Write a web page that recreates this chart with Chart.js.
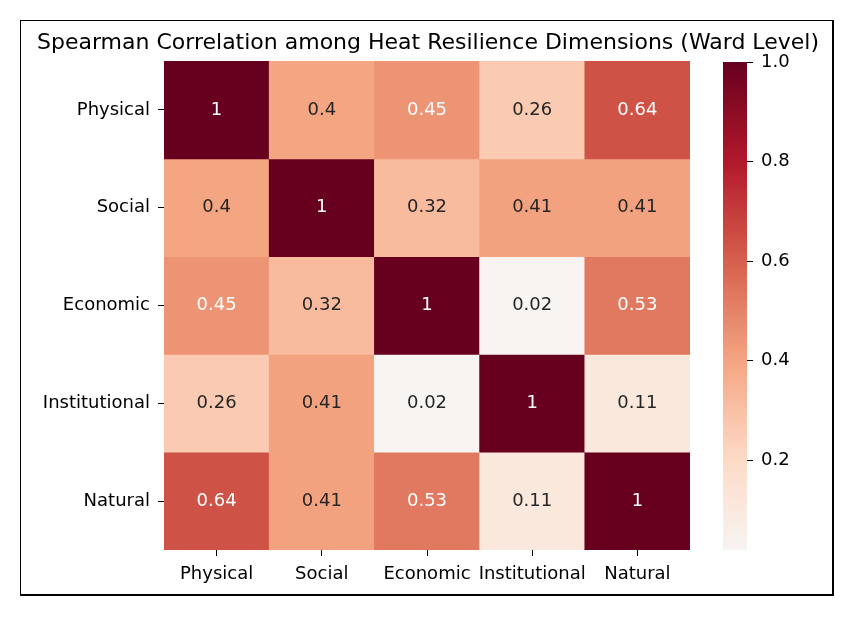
<!DOCTYPE html>
<html lang="en">
  <head>
    <meta charset="UTF-8" />
    <title>Spearman Correlation Heatmap</title>
    <style>
      body { margin: 0; background: #fff; }
      #wrap { position: relative; width: 856px; height: 618px; }
      #frame {
        position: absolute; left: 20px; top: 20px; width: 811px; height: 573px;
        border-left: 1px solid #000; border-top: 1px solid #000;
        border-right: 2px solid #000; border-bottom: 2px solid #000;
      }
      #heat { position: absolute; left: 0; top: 0; }
      #cbar { position: absolute; left: 700px; top: 0; }
    </style>
  </head>
  <body>
    <div id="wrap">
      <div id="frame"></div>
      <canvas id="heat" width="856" height="618"></canvas>
      <canvas id="cbar" width="156" height="618"></canvas>
    </div>

    <script src="https://cdn.jsdelivr.net/npm/chart.js@4.4.1/dist/chart.umd.min.js"></script>
    <script>
      // data
      const dimensions = ["Physical", "Social", "Economic", "Institutional", "Natural"];
      const physical = [1, 0.4, 0.45, 0.26, 0.64];
      const social = [0.4, 1, 0.32, 0.41, 0.41];
      const economic = [0.45, 0.32, 1, 0.02, 0.53];
      const institutional = [0.26, 0.41, 0.02, 1, 0.11];
      const natural = [0.64, 0.41, 0.53, 0.11, 1];
      const rows = [physical, social, economic, institutional, natural];
      const colorbarTicks = [0.2, 0.4, 0.6, 0.8, 1.0];
      const colorMin = 0.02;
      const colorMax = 1.0;

      const FONT = "'DejaVu Sans', sans-serif";

      // RdBu_r, centred on 0 (upper half shows 0..1)
      const rdbuR = [
        [5, 48, 97], [33, 102, 172], [67, 147, 195], [146, 197, 222], [209, 229, 240],
        [247, 247, 247], [253, 219, 199], [244, 165, 130], [214, 96, 77], [178, 24, 43], [103, 0, 31],
      ];
      function cmapRGB(v) {
        let t = Math.max(0, Math.min(1, (v + 1) / 2)) * (rdbuR.length - 1);
        let i = Math.min(Math.floor(t), rdbuR.length - 2);
        let f = t - i;
        return rdbuR[i].map((c, k) => c + (rdbuR[i + 1][k] - c) * f);
      }
      function cmap(v) {
        const c = cmapRGB(v);
        return `rgb(${Math.round(c[0])},${Math.round(c[1])},${Math.round(c[2])})`;
      }
      function textColor(v) {
        const lin = cmapRGB(v).map((c) => {
          c = c / 255;
          return c <= 0.03928 ? c / 12.92 : Math.pow((c + 0.055) / 1.055, 2.4);
        });
        const lum = 0.2126 * lin[0] + 0.7152 * lin[1] + 0.0722 * lin[2];
        return lum > 0.408 ? "#262626" : "#ffffff";
      }
      function fmt(v) {
        return String(Number(v.toPrecision(2)));
      }

      const annotate = {
        id: "annotate",
        afterDatasetsDraw(chart) {
          const ctx = chart.ctx;
          ctx.save();
          ctx.font = "18px " + FONT;
          ctx.textAlign = "center";
          ctx.textBaseline = "middle";
          chart.data.datasets.forEach((ds, i) => {
            chart.getDatasetMeta(i).data.forEach((el, j) => {
              const v = rows[i][j];
              ctx.fillStyle = textColor(v);
              ctx.fillText(fmt(v), el.x, (el.y + el.base) / 2);
            });
          });
          ctx.restore();
        },
      };

      new Chart(document.getElementById("heat"), {
        type: "bar",
        data: {
          labels: dimensions,
          datasets: rows.map((row, i) => ({
            label: dimensions[i],
            data: row.map(() => [i, i + 1]),
            backgroundColor: row.map(cmap),
            borderWidth: 0,
            barPercentage: 1,
            categoryPercentage: 1,
            grouped: false,
          })),
        },
        options: {
          responsive: false,
          animation: false,
          layout: { padding: 0 },
          plugins: {
            legend: { display: false },
            tooltip: { enabled: false },
            title: {
              display: true,
              text: "Spearman Correlation among Heat Resilience Dimensions (Ward Level)",
              color: "#000",
              font: { family: FONT, size: 22, weight: "normal" },
              padding: { top: 30, bottom: 4.6 },
            },
          },
          scales: {
            x: {
              grid: { offset: false, drawOnChartArea: false, tickLength: 6, color: "#000" },
              border: { display: false },
              ticks: { color: "#000", padding: 8, autoSkip: false, font: { family: FONT, size: 18 }, maxRotation: 0 },
              afterFit(s) { s.height = 68; },
            },
            y: {
              min: 0,
              max: dimensions.length,
              reverse: true,
              grid: { drawOnChartArea: false, tickLength: 6, color: "#000" },
              border: { display: false },
              afterBuildTicks(s) {
                s.ticks = dimensions.map((_, i) => ({ value: i + 0.5 }));
              },
              ticks: {
                color: "#000",
                padding: 8,
                font: { family: FONT, size: 18 },
                callback: (v, idx) => dimensions[idx],
              },
              afterFit(s) { s.width = 164; },
            },
            // empty right-hand strip that leaves room for the colour bar
            spare: {
              position: "right",
              grid: { display: false },
              border: { display: false },
              ticks: { display: false },
              afterFit(s) { s.width = 166; },
            },
          },
        },
        plugins: [annotate],
      });

      // colour bar
      new Chart(document.getElementById("cbar"), {
        type: "bar",
        data: {
          labels: [""],
          datasets: [
            {
              data: [[colorMin, colorMax]],
              borderWidth: 0,
              barPercentage: 1,
              categoryPercentage: 1,
              backgroundColor(c) {
                const chart = c.chart;
                if (!chart.chartArea) return "#fff";
                const y = chart.scales.y;
                const g = chart.ctx.createLinearGradient(0, y.getPixelForValue(colorMin), 0, y.getPixelForValue(colorMax));
                for (let k = 0; k <= 40; k++) {
                  g.addColorStop(k / 40, cmap(colorMin + (colorMax - colorMin) * k / 40));
                }
                return g;
              },
            },
          ],
        },
        options: {
          responsive: false,
          animation: false,
          layout: { padding: { left: 23, right: 0, top: 62, bottom: 68 } },
          plugins: { legend: { display: false }, tooltip: { enabled: false } },
          scales: {
            x: { display: false },
            y: {
              position: "right",
              min: colorMin,
              max: colorMax,
              grid: { drawOnChartArea: false, tickLength: 6, color: "#000" },
              border: { display: false },
              afterBuildTicks(s) {
                s.ticks = colorbarTicks.map((v) => ({ value: v }));
              },
              ticks: {
                color: "#000",
                padding: 8,
                font: { family: FONT, size: 18 },
                callback: (v) => v.toFixed(1),
              },
              afterFit(s) { s.width = 109; },
            },
          },
        },
      });
    </script>
  </body>
</html>
